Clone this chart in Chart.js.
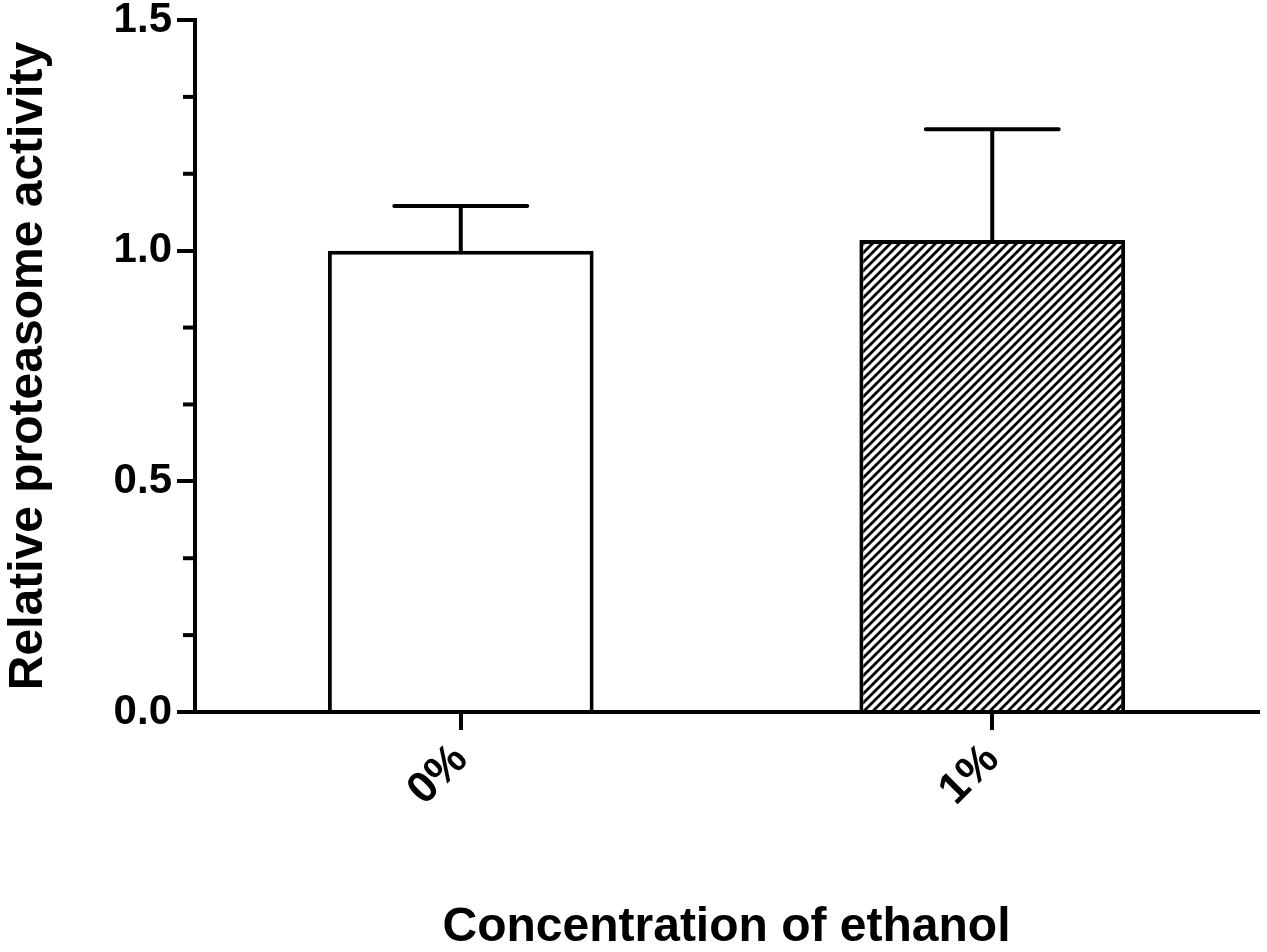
<!DOCTYPE html>
<html>
<head>
<meta charset="utf-8">
<script src="https://cdn.jsdelivr.net/npm/chart.js@4"></script>
<style>
  html, body { margin: 0; padding: 0; background: #fff; }
  #wrap { width: 1267px; height: 952px; }
</style>
</head>
<body>
<div id="wrap"><canvas id="chart" width="1267" height="952"></canvas></div>
<script>
// Data
const categories = ['0%', '1%'];
const activity = [1.00, 1.023];
const sem = [0.097, 0.24];
const yTicks = [0, 0.5, 1.0, 1.5];

const FONT = "'Liberation Sans', Arial, Helvetica, sans-serif";

// diagonal hatch for the ethanol bar
function makeHatch() {
    const size = 9;
    const c = document.createElement('canvas');
    c.width = size;
    c.height = size;
    const g = c.getContext('2d');
    g.fillStyle = '#fff';
    g.fillRect(0, 0, size, size);
    g.strokeStyle = '#000';
    g.lineWidth = 2.8;
    g.beginPath();
    g.moveTo(0, size); g.lineTo(size, 0);
    g.moveTo(-2, 2); g.lineTo(2, -2);
    g.moveTo(size - 2, size + 2); g.lineTo(size + 2, size - 2);
    g.stroke();
    return g.createPattern(c, 'repeat');
}

// SEM bars, only the upper half like Prism draws them
const errorBars = {
    id: 'errorBars',
    afterDatasetsDraw(chart) {
        const ctx = chart.ctx;
        const y = chart.scales.y;
        const meta = chart.getDatasetMeta(0);
        ctx.save();
        ctx.strokeStyle = '#000';
        ctx.lineWidth = 4;
        ctx.lineCap = 'round';
        meta.data.forEach((bar, i) => {
            const top = y.getPixelForValue(activity[i] + sem[i]);
            const half = bar.width * 0.25;
            ctx.beginPath();
            ctx.moveTo(bar.x, bar.y);
            ctx.lineTo(bar.x, top);
            ctx.moveTo(bar.x - half, top);
            ctx.lineTo(bar.x + half, top);
            ctx.stroke();
        });
        ctx.restore();
    }
};

// two minor ticks between the major ones
const minorTicks = {
    id: 'minorTicks',
    afterDraw(chart) {
        const ctx = chart.ctx;
        const y = chart.scales.y;
        const x0 = chart.chartArea.left;
        ctx.save();
        ctx.strokeStyle = '#000';
        ctx.lineWidth = 4;
        for (let k = 0; k < yTicks.length - 1; k++) {
            const step = (yTicks[k + 1] - yTicks[k]) / 3;
            for (let j = 1; j < 3; j++) {
                const py = y.getPixelForValue(yTicks[k] + step * j);
                ctx.beginPath();
                ctx.moveTo(x0 - 12, py);
                ctx.lineTo(x0, py);
                ctx.stroke();
            }
        }
        ctx.restore();
    }
};

new Chart(document.getElementById('chart').getContext('2d'), {
    type: 'bar',
    data: {
        labels: categories,
        datasets: [{
            data: activity,
            backgroundColor: ['#ffffff', makeHatch()],
            borderColor: '#000',
            borderWidth: 4,
            borderSkipped: 'bottom',
            barPercentage: 0.5,
            categoryPercentage: 1.0
        }]
    },
    options: {
        responsive: false,
        animation: false,
        layout: { padding: { top: 20, right: 9, left: 0, bottom: 0 } },
        plugins: {
            legend: { display: false },
            tooltip: { enabled: false }
        },
        scales: {
            x: {
                afterFit: (scale) => {
                    scale.height = 240;
                    scale.paddingLeft = 0;
                    scale.paddingRight = 0;
                },
                grid: {
                    offset: false,
                    drawOnChartArea: false,
                    drawTicks: true,
                    tickLength: 18,
                    color: '#000',
                    lineWidth: 4
                },
                border: { display: true, color: '#000', width: 4 },
                ticks: {
                    color: '#000',
                    font: { family: FONT, size: 44, weight: 'bold' },
                    maxRotation: 45,
                    minRotation: 45,
                    padding: 4
                },
                title: {
                    display: true,
                    text: 'Concentration of ethanol',
                    color: '#000',
                    font: { family: FONT, size: 48, weight: 'bold', lineHeight: 1 },
                    padding: { top: 4, bottom: 0 }
                }
            },
            y: {
                min: 0,
                max: 1.5,
                afterFit: (scale) => {
                    scale.width = 195;
                    scale.paddingTop = 0;
                    scale.paddingBottom = 0;
                },
                afterBuildTicks: (scale) => {
                    scale.ticks = yTicks.map(v => ({ value: v }));
                },
                grid: {
                    drawOnChartArea: false,
                    drawTicks: true,
                    tickLength: 18,
                    color: '#000',
                    lineWidth: 4
                },
                border: { display: true, color: '#000', width: 4 },
                ticks: {
                    color: '#000',
                    font: { family: FONT, size: 42, weight: 'bold' },
                    padding: 5,
                    callback: (v) => Number(v).toFixed(1)
                },
                title: {
                    display: true,
                    text: 'Relative proteasome activity',
                    color: '#000',
                    font: { family: FONT, size: 48, weight: 'bold' },
                    padding: { top: 0, bottom: 0 }
                }
            }
        }
    },
    plugins: [errorBars, minorTicks]
});
</script>
</body>
</html>
